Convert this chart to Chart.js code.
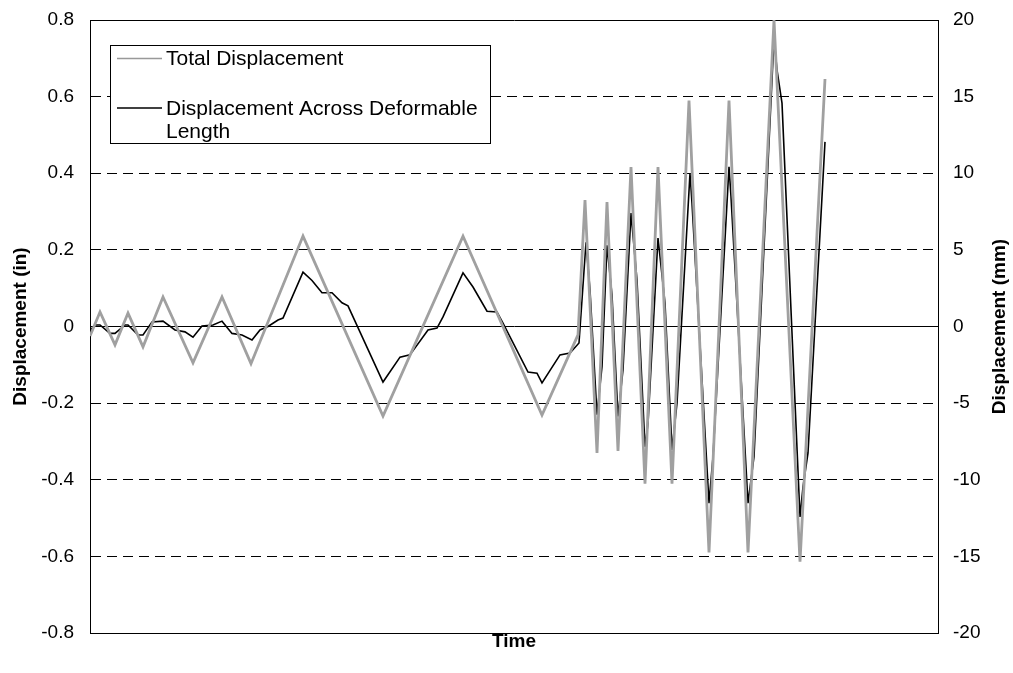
<!DOCTYPE html>
<html>
<head>
<meta charset="utf-8">
<script src="https://cdn.jsdelivr.net/npm/chart.js@4/dist/chart.umd.min.js"></script>
<style>
  html, body { margin: 0; padding: 0; background: #fff; }
  #wrap { width: 1013px; height: 673px; }
</style>
</head>
<body>
<div id="wrap"><canvas id="c" width="1013" height="673"></canvas></div>
<script>
// ---- data (time in arbitrary units, displacement in inches) ----
const totalTime = [0, 10, 25, 38, 53, 73, 103, 132, 161, 213, 293, 373, 452, 488, 495, 507, 517, 528, 541, 555, 568, 582, 599, 619, 639, 658, 684, 710, 735];
const totalDisp = [-0.025, 0.038, -0.048, 0.035, -0.053, 0.077, -0.095, 0.077, -0.097, 0.236, -0.234, 0.236, -0.231, -0.022, 0.33, -0.33, 0.325, -0.325, 0.416, -0.41, 0.416, -0.41, 0.59, -0.59, 0.59, -0.59, 0.80, -0.614, 0.646];

const deformTime = [0, 5, 10, 20, 25, 35, 38, 48, 53, 62, 73, 85, 95, 103, 112, 123, 132, 142, 152, 162, 170, 178, 188, 193, 213, 222, 232, 242, 252, 258, 293, 310, 320, 338, 347, 353, 373, 383, 397, 407, 413, 438, 447, 452, 470, 480, 489, 496, 500, 507, 512, 517, 522, 528, 533, 541, 547, 555, 558, 568, 575, 582, 587, 600, 602, 619, 623, 639, 641, 658, 664, 684, 687, 692, 710, 713, 718, 735];
const deformDisp = [-0.01, 0.004, 0.004, -0.018, -0.018, 0.004, 0.004, -0.022, -0.022, 0.012, 0.014, -0.009, -0.014, -0.028, 0.001, 0.004, 0.014, -0.018, -0.022, -0.035, -0.009, 0.0, 0.017, 0.022, 0.142, 0.12, 0.088, 0.088, 0.062, 0.054, -0.145, -0.08, -0.074, -0.009, -0.004, 0.025, 0.14, 0.103, 0.04, 0.038, 0.009, -0.119, -0.122, -0.147, -0.074, -0.069, -0.043, 0.22, 0.095, -0.23, -0.105, 0.212, 0.082, -0.235, -0.113, 0.296, 0.121, -0.314, -0.253, 0.231, 0.061, -0.322, -0.2, 0.40, 0.322, -0.461, -0.34, 0.417, 0.339, -0.461, -0.34, 0.753, 0.67, 0.583, -0.497, -0.419, -0.33, 0.482];

const seriesNames = ["Total Displacement", "Displacement Across Deformable Length"];
const leftTitle = "Displacement (in)";
const rightTitle = "Displacement (mm)";
const xTitle = "Time";

const FONT = "'Liberation Sans', Arial, sans-serif";

const toXY = (xs, ys) => xs.map((x, i) => ({ x: x, y: ys[i] }));

const legendPlugin = {
  id: 'customLegend',
  afterDraw(chart) {
    const ctx = chart.ctx;
    ctx.save();
    // right-axis title (reads bottom-to-top)
    ctx.font = "bold 19px " + FONT;
    ctx.fillStyle = '#000';
    ctx.textAlign = 'center';
    ctx.textBaseline = 'middle';
    const ca = chart.chartArea;
    ctx.translate(1000, (ca.top + ca.bottom) / 2);
    ctx.rotate(-Math.PI / 2);
    ctx.fillText(rightTitle, 0, 0);
    ctx.restore();

    ctx.save();
    const bx = 110, by = 45, bw = 380, bh = 98;
    ctx.fillStyle = '#fff';
    ctx.fillRect(bx, by, bw, bh);
    ctx.strokeStyle = '#000';
    ctx.lineWidth = 1;
    ctx.strokeRect(bx + 0.5, by + 0.5, bw, bh);
    ctx.font = "21px " + FONT;
    ctx.textAlign = 'left';
    ctx.textBaseline = 'middle';
    ctx.fillStyle = '#000';
    // series 1
    ctx.strokeStyle = '#999';
    ctx.lineWidth = 1.5;
    ctx.beginPath(); ctx.moveTo(117, 58.5); ctx.lineTo(162, 58.5); ctx.stroke();
    ctx.fillText(seriesNames[0], 166, 59);
    // series 2
    ctx.strokeStyle = '#000';
    ctx.lineWidth = 1.5;
    ctx.beginPath(); ctx.moveTo(117, 108); ctx.lineTo(162, 108); ctx.stroke();
    ctx.fillText("Displacement Across Deformable", 166, 109);
    ctx.fillText("Length", 166, 132);
    ctx.restore();
  }
};

new Chart(document.getElementById('c'), {
  type: 'line',
  data: {
    datasets: [
      {
        label: seriesNames[0],
        data: toXY(totalTime, totalDisp),
        borderColor: '#a0a0a0',
        borderWidth: 2.8,
        pointRadius: 0,
        tension: 0,
        yAxisID: 'y'
      },
      {
        label: seriesNames[1],
        data: toXY(deformTime, deformDisp),
        borderColor: '#000',
        borderWidth: 1.6,
        pointRadius: 0,
        tension: 0,
        yAxisID: 'y'
      }
    ]
  },
  options: {
    responsive: false,
    animation: false,
    devicePixelRatio: 1,
    layout: { padding: { top: 20, right: 0, bottom: 0, left: 0 } },
    plugins: { legend: { display: false }, tooltip: { enabled: false } },
    scales: {
      x: {
        type: 'linear',
        min: 0,
        max: 848,
        ticks: { display: false },
        grid: { display: false, drawTicks: false },
        border: { display: true, color: '#000', width: 1 },
        title: { display: true, text: xTitle, color: '#000', font: { family: FONT, size: 19, weight: 'bold' }, padding: { top: 0, bottom: 20 } },
        afterFit(s) { s.height = 40; s.paddingLeft = 0; s.paddingRight = 0; }
      },
      y: {
        position: 'left',
        min: -0.8,
        max: 0.8,
        ticks: {
          stepSize: 0.2,
          color: '#000',
          padding: 16,
          font: { family: FONT, size: 19 },
          callback: (v) => Math.abs(v) < 1e-9 ? '0' : Number(v).toFixed(1)
        },
        grid: {
          drawTicks: false,
          color: '#000',
          lineWidth: 1
        },
        border: {
          display: true,
          color: '#000',
          width: 1,
          dash: (c) => (c.tick && Math.abs(c.tick.value) > 1e-9 && Math.abs(c.tick.value) < 0.79) ? [10, 6] : []
        },
        title: { display: true, text: leftTitle, color: '#000', font: { family: FONT, size: 19, weight: 'bold' }, padding: { top: 9, bottom: 0 } },
        afterFit(s) { s.width = 90; s.paddingTop = 0; s.paddingBottom = 0; }
      },
      y2: {
        position: 'right',
        min: -20,
        max: 20,
        ticks: {
          stepSize: 5,
          color: '#000',
          padding: 15,
          font: { family: FONT, size: 19 }
        },
        grid: { display: false, drawTicks: false },
        border: { display: true, color: '#000', width: 1 },
        afterFit(s) { s.width = 75; s.paddingTop = 0; s.paddingBottom = 0; }
      }
    }
  },
  plugins: [legendPlugin]
});
</script>
</body>
</html>
